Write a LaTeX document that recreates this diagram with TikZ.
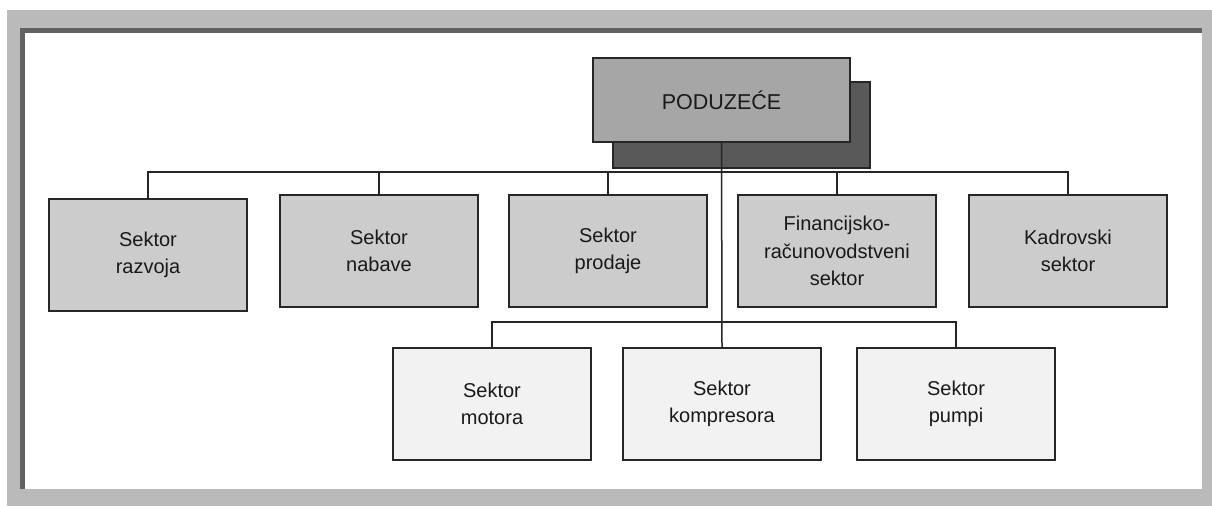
\documentclass[tikz,border=0pt]{standalone}
\usepackage{fontspec}
\setmainfont{Liberation Sans}
\begin{document}
\begin{tikzpicture}[x=1pt,y=-1pt,
  font=\fontsize{20}{27.5}\selectfont,
  unitbox/.style={draw=black!85, line width=1.8pt, align=center, inner sep=0pt,
    minimum width=198pt, minimum height=112pt, text=black!90},
  upperbox/.style={unitbox, fill=black!20},
  lowerbox/.style={unitbox, fill=black!5},
  link/.style={draw=black!85, line width=1.5pt}]
\useasboundingbox (0,0) rectangle (1212,508);
% frame
\fill[black!27] (7,10) rectangle (1212,506);
\fill[white] (24,32) rectangle (1202,489);
\draw[black!62, line width=5pt] (22.5,489) -- (22.5,30.5) -- (1202,30.5);
% top unit
\node[draw=black!85, line width=1.5pt, fill=black!65, minimum width=257pt, minimum height=86pt, inner sep=0pt] (podushadow) at (741.5,125) {};
\node[draw=black!85, line width=1.8pt, fill=black!35, minimum width=257pt, minimum height=84pt, inner sep=0pt, font=\fontsize{21.5}{26}\selectfont, text=black!90] (podu) at (721.5,100) {PODUZEĆE};
% upper row
\node[upperbox] (razvoja) at (148,255) {Sektor\\razvoja};
\node[upperbox] (nabave) at (379,251) {Sektor\\nabave};
\node[upperbox] (prodaje) at (608,251) {Sektor\\prodaje};
\node[upperbox] (financ) at (837,251) {Financijsko-\\računovodstveni\\sektor};
\node[upperbox] (kadrovski) at (1068,251) {Kadrovski\\sektor};
% lower row
\node[lowerbox] (motora) at (492,404) {Sektor\\motora};
\node[lowerbox] (kompresora) at (722,404) {Sektor\\kompresora};
\node[lowerbox] (pumpi) at (956,404) {Sektor\\pumpi};
% connectors
\coordinate (bus) at (722,172);
\coordinate (lbus) at (722,322);
\draw[link] (razvoja.north) |- (bus) -| (kadrovski.north);
\draw[link] (nabave.north) -- (nabave.north |- bus);
\draw[link] (prodaje.north) -- (prodaje.north |- bus);
\draw[link] (financ.north) -- (financ.north |- bus);
\draw[link] (podu.south) -- (kompresora.north);
\draw[link] (motora.north) |- (lbus) -| (pumpi.north);
\end{tikzpicture}
\end{document}
